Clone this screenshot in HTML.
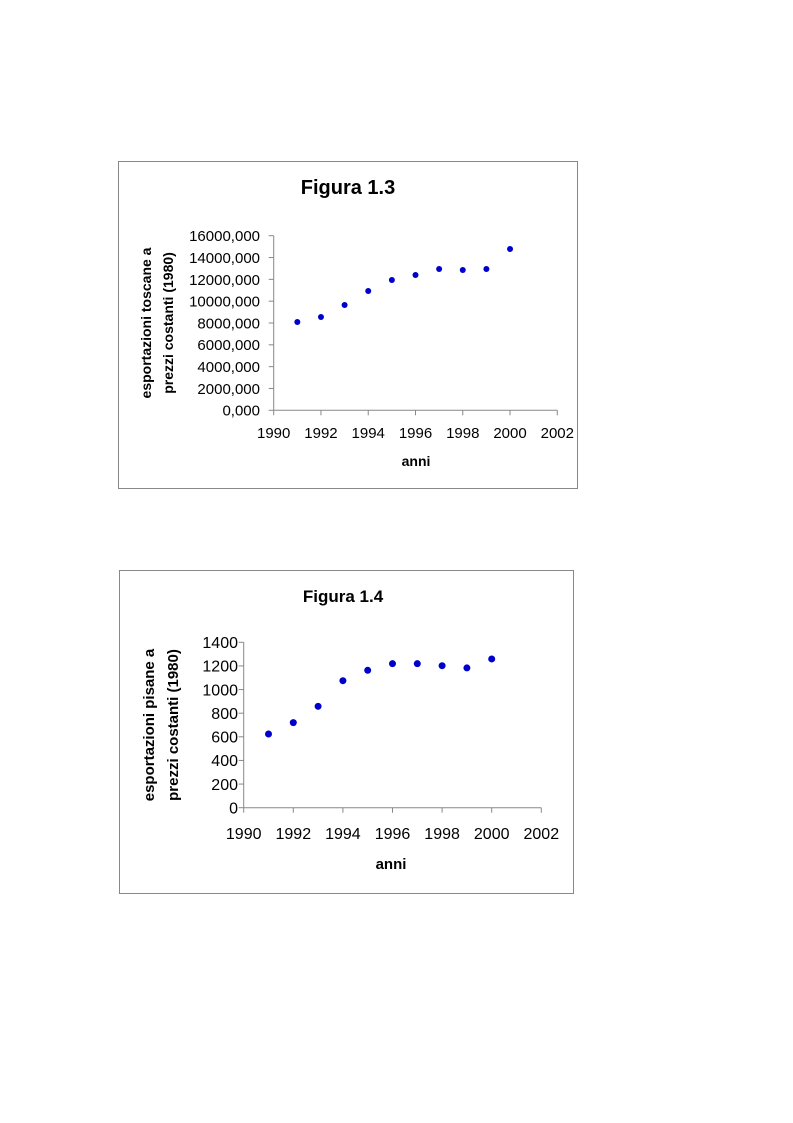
<!DOCTYPE html>
<html><head><meta charset="utf-8">
<style>
html,body{margin:0;padding:0;background:#fff;}
svg{display:block;font-family:"Liberation Sans",Arial,sans-serif;}
</style></head>
<body>
<svg id="s" width="793" height="1123" viewBox="0 0 793 1123">
<rect x="118.5" y="161.5" width="459" height="327" fill="none" stroke="#888"/>
<text x="348" y="194" font-size="20" font-weight="bold" text-anchor="middle">Figura 1.3</text>
<text x="416" y="466" font-size="14" font-weight="bold" text-anchor="middle">anni</text>
<g transform="translate(151,323) rotate(-90)">
<text x="0" y="0" font-size="14" font-weight="bold" text-anchor="middle">esportazioni toscane a</text>
<text x="0" y="22" font-size="14" font-weight="bold" text-anchor="middle">prezzi costanti (1980)</text>
</g>
<rect x="119.5" y="570.5" width="454" height="323" fill="none" stroke="#888"/>
<text x="343" y="602" font-size="17" font-weight="bold" text-anchor="middle">Figura 1.4</text>
<text x="391" y="869" font-size="15" font-weight="bold" text-anchor="middle">anni</text>
<g transform="translate(154,725) rotate(-90)">
<text x="0" y="0" font-size="15" font-weight="bold" text-anchor="middle">esportazioni pisane a</text>
<text x="0" y="24" font-size="15" font-weight="bold" text-anchor="middle">prezzi costanti (1980)</text>
</g>
</svg>
<script>
const years = [1991,1992,1993,1994,1995,1996,1997,1998,1999,2000];
const toscaneValues = [8090,8550,9650,10930,11940,12400,12950,12860,12950,14780];
const pisaneValues = [624,720,858,1075,1163,1219,1219,1202,1183,1259];
const xTicks = [1990,1992,1994,1996,1998,2000,2002];
const yTicksToscane = [0,2000,4000,6000,8000,10000,12000,14000,16000];
const yTickLabelsToscane = ["0,000","2000,000","4000,000","6000,000","8000,000","10000,000","12000,000","14000,000","16000,000"];
const yTicksPisane = [0,200,400,600,800,1000,1200,1400];
const yTickLabelsPisane = ["0","200","400","600","800","1000","1200","1400"];

const NS="http://www.w3.org/2000/svg";
const svg=document.getElementById('s');
function mk(tag,attrs,parent){const e=document.createElementNS(NS,tag);for(const k in attrs)e.setAttribute(k,attrs[k]);(parent||svg).appendChild(e);return e;}

function drawChart(cfg){
  const g=mk('g',{});
  
  
  const xs=v=>cfg.x0+(v-cfg.xmin)/(cfg.xmax-cfg.xmin)*(cfg.x1-cfg.x0);
  const ys=v=>cfg.y0-(v-cfg.ymin)/(cfg.ymax-cfg.ymin)*(cfg.y0-cfg.y1);
  const ax=mk('line',{x1:cfg.x0,y1:cfg.y0,x2:cfg.x0,y2:cfg.y1,stroke:'#888','stroke-width':1},g);
  
  
  const bx=mk('line',{x1:cfg.x0,y1:cfg.y0,x2:cfg.x1,y2:cfg.y0,stroke:'#888','stroke-width':1},g);
  
  
  cfg.yt.forEach((v,i)=>{
    const y=ys(v);
    const t=mk('line',{x1:cfg.x0-5,y1:y,x2:cfg.x0,y2:y,stroke:'#888'},g);
    
    
    const l=mk('text',{x:cfg.ylabX,y:y+cfg.fs*0.36,'font-size':cfg.fs,'text-anchor':'end'},g);
    l.textContent=cfg.ytl[i];
    
    
  });
  xTicks.forEach(v=>{
    const x=xs(v);
    const t=mk('line',{x1:x,y1:cfg.y0,x2:x,y2:cfg.y0+5,stroke:'#888'},g);
    
    
    const l=mk('text',{x:x,y:cfg.xlabY,'font-size':cfg.fs,'text-anchor':'middle'},g);
    l.textContent=String(v);
    
    
  });
  years.forEach((yr,i)=>{
    const c=mk('circle',{cx:xs(yr),cy:ys(cfg.vals[i]),r:cfg.r,fill:'#0000cc'},g);
    
    
  });
}
drawChart({name:'chart-1-3',x0:273.7,x1:557.3,y0:410.3,y1:235.7,xmin:1990,xmax:2002,ymin:0,ymax:16000,
  yt:yTicksToscane,ytl:yTickLabelsToscane,vals:toscaneValues,fs:15,ylabX:260,xlabY:438,r:3});
drawChart({name:'chart-1-4',x0:243.7,x1:541.3,y0:807.7,y1:642.3,xmin:1990,xmax:2002,ymin:0,ymax:1400,
  yt:yTicksPisane,ytl:yTickLabelsPisane,vals:pisaneValues,fs:16,ylabX:238,xlabY:839,r:3.5});
</script>
</body></html>
